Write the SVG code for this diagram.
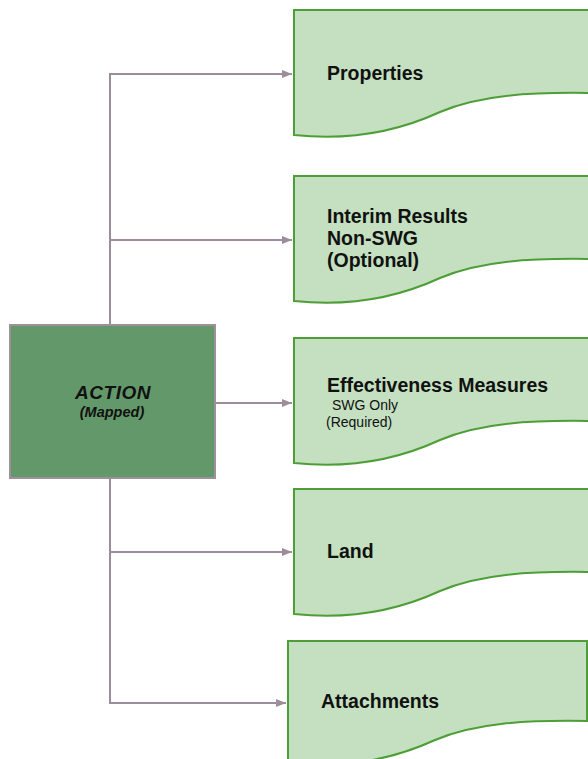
<svg xmlns="http://www.w3.org/2000/svg" width="588" height="759" viewBox="0 0 588 759">
<defs>
<marker id="arr" markerWidth="10" markerHeight="8" refX="10" refY="4" orient="auto" markerUnits="userSpaceOnUse">
<path d="M0,0 L10,4 L0,8 Z" fill="#9D8C9A"/>
</marker>
</defs>
<style>
.doc{fill:#C4E0C0;stroke:#4E9E38;stroke-width:2}
.lbl{font-family:"Liberation Sans",Arial,sans-serif;font-weight:bold;font-size:19.5px;fill:#111}
.sm{font-family:"Liberation Sans",Arial,sans-serif;font-size:14px;fill:#111}
.con{fill:none;stroke:#9D8C9A;stroke-width:2}
</style>
<g id="connectors">
<path class="con" d="M110,325 V74 H292" marker-end="url(#arr)"/>
<path class="con" d="M110,240 H292" marker-end="url(#arr)"/>
<path class="con" d="M215,403 H292" marker-end="url(#arr)"/>
<path class="con" d="M110,478 V703 H286" marker-end="url(#arr)"/>
<path class="con" d="M110,552 H292" marker-end="url(#arr)"/>
</g>
<g id="action">
<rect x="10" y="325" width="205" height="153" fill="#63996A" stroke="#9E919C" stroke-width="2"/>
<text x="113" y="399" text-anchor="middle" font-family="'Liberation Sans',Arial,sans-serif" font-weight="bold" font-style="italic" font-size="19" letter-spacing="0.5" fill="#111">ACTION</text>
<text x="112" y="417" text-anchor="middle" font-family="'Liberation Sans',Arial,sans-serif" font-weight="bold" font-style="italic" font-size="14.5" fill="#111">(Mapped)</text>
</g>
<g id="properties">
<path class="doc" d="M294,10 H592 V93 C530,92 480,95 440,112 C390,135 340,140 294,135 Z"/>
<text class="lbl" x="327" y="80">Properties</text>
</g>
<g id="interim">
<path class="doc" d="M294,176 H592 V259 C530,258 480,261 440,278 C390,301 340,306 294,301 Z"/>
<text class="lbl" x="327" y="223">Interim Results</text>
<text class="lbl" x="327" y="245">Non-SWG</text>
<text class="lbl" x="327" y="267">(Optional)</text>
</g>
<g id="effectiveness">
<path class="doc" d="M294,338 H592 V421 C530,420 480,423 440,440 C390,463 340,468 294,463 Z"/>
<text class="lbl" x="327" y="392">Effectiveness Measures</text>
<text class="sm" x="332" y="410">SWG Only</text>
<text class="sm" x="326" y="427">(Required)</text>
</g>
<g id="land">
<path class="doc" d="M294,489 H592 V572 C530,571 480,574 440,591 C390,614 340,619 294,614 Z"/>
<text class="lbl" x="327" y="558">Land</text>
</g>
<g id="attachments">
<path class="doc" d="M288,641 H587 V721 C525,720 475,723 435,740 C385,763 335,768 288,763 Z"/>
<text class="lbl" x="321" y="708">Attachments</text>
</g>
</svg>
